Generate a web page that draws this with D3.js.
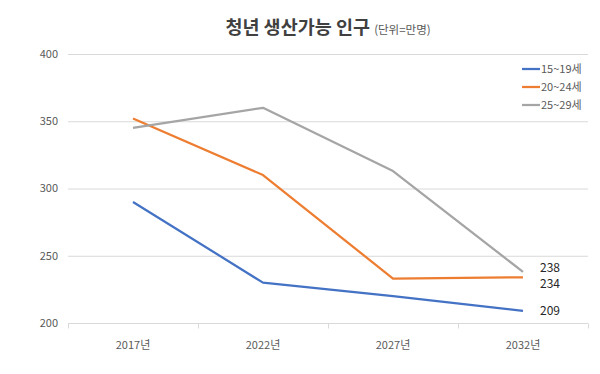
<!DOCTYPE html>
<html>
<head>
<meta charset="utf-8">
<script src="https://cdn.jsdelivr.net/npm/d3@7"></script>
<style>
  body { margin: 0; background: #fff; }
  text { font-family: "Noto Sans CJK KR", "Noto Sans", sans-serif; }
</style>
</head>
<body>
<script>
// chart values
var years = ["2017년", "2022년", "2027년", "2032년"];
var seriesNames = ["15~19세", "20~24세", "25~29세"];
var teen = [290, 230, 220, 209];
var early20s = [352, 310, 233, 234];
var late20s = [345, 360, 313, 238];
var yTicks = [200, 250, 300, 350, 400];
var colors = ["#4472C4", "#ED7D31", "#A5A5A5"];

var series = [teen, early20s, late20s];

var width = 600, height = 374;
var margin = {top: 54, right: 12, bottom: 51, left: 68};

var svg = d3.select("body").append("svg")
    .attr("width", width)
    .attr("height", height);

var x = d3.scaleBand()
    .domain(years)
    .range([margin.left, width - margin.right]);

var y = d3.scaleLinear()
    .domain([200, 400])
    .range([height - margin.bottom, margin.top]);

// gridlines
svg.selectAll(".grid")
   .data(yTicks.slice(1))
   .enter()
   .append("line")
   .attr("x1", margin.left)
   .attr("x2", width - margin.right)
   .attr("y1", function(d){ return y(d) + 0.5; })
   .attr("y2", function(d){ return y(d) + 0.5; })
   .attr("stroke", "#d9d9d9")
   .attr("stroke-width", 1);

// y labels
svg.selectAll(".ylab")
   .data(yTicks)
   .enter()
   .append("text")
   .attr("x", margin.left - 10)
   .attr("y", function(d){ return y(d); })
   .attr("dy", "0.35em")
   .attr("text-anchor", "end")
   .attr("font-size", 11)
   .attr("fill", "#595959")
   .text(function(d){ return d; });

// x axis line with ticks between categories
var xAxis = svg.append("g")
   .attr("transform", "translate(0," + (y(200) + 0.5) + ")");
xAxis.append("line")
   .attr("x1", margin.left)
   .attr("x2", width - margin.right)
   .attr("stroke", "#d9d9d9");
var bounds = years.map(function(d){ return x(d); }).concat([x(years[years.length - 1]) + x.bandwidth()]);
xAxis.selectAll(".tick")
   .data(bounds)
   .enter()
   .append("line")
   .attr("x1", function(d){ return Math.round(d) + 0.5; })
   .attr("x2", function(d){ return Math.round(d) + 0.5; })
   .attr("y1", 0)
   .attr("y2", 5)
   .attr("stroke", "#d9d9d9");
xAxis.selectAll(".xlab")
   .data(years)
   .enter()
   .append("text")
   .attr("x", function(d){ return x(d) + x.bandwidth() / 2; })
   .attr("y", 25)
   .attr("text-anchor", "middle")
   .attr("font-size", 11)
   .attr("fill", "#595959")
   .text(function(d){ return d; });

// lines
var line = d3.line()
   .x(function(d, i){ return x(years[i]) + x.bandwidth() / 2; })
   .y(function(d){ return y(d); });

svg.selectAll(".series")
   .data(series)
   .enter()
   .append("path")
   .attr("d", line)
   .attr("fill", "none")
   .attr("stroke", function(d, i){ return colors[i]; })
   .attr("stroke-width", 2.25)
   .attr("stroke-linejoin", "round");

// end labels
var lastX = x(years[3]) + x.bandwidth() / 2;
var endOffsets = [0, 7, -4];
series.forEach(function(s, i){
    svg.append("text")
       .attr("x", lastX + 17)
       .attr("y", y(s[3]) + endOffsets[i])
       .attr("dy", "0.35em")
       .attr("font-size", 12)
       .attr("fill", "#262626")
       .text(s[3]);
});

// legend
var legend = svg.append("g");
seriesNames.forEach(function(name, i){
    var ly = 69 + i * 18;
    legend.append("line")
       .attr("x1", 522)
       .attr("x2", 540)
       .attr("y1", ly)
       .attr("y2", ly)
       .attr("stroke", colors[i])
       .attr("stroke-width", 2.25);
    legend.append("text")
       .attr("x", 541)
       .attr("y", ly)
       .attr("dy", "0.35em")
       .attr("font-size", 11)
       .attr("fill", "#595959")
       .text(name);
});

// title, centred over the plot area
var title = svg.append("text")
   .attr("x", (margin.left + width - margin.right) / 2)
   .attr("y", 34)
   .attr("text-anchor", "middle");
title.append("tspan")
   .attr("font-size", 18.5)
   .attr("font-weight", "bold")
   .attr("fill", "#404040")
   .text("청년 생산가능 인구 ");
title.append("tspan")
   .attr("font-size", 11.5)
   .attr("fill", "#595959")
   .text("(단위=만명)");
</script>
</body>
</html>
